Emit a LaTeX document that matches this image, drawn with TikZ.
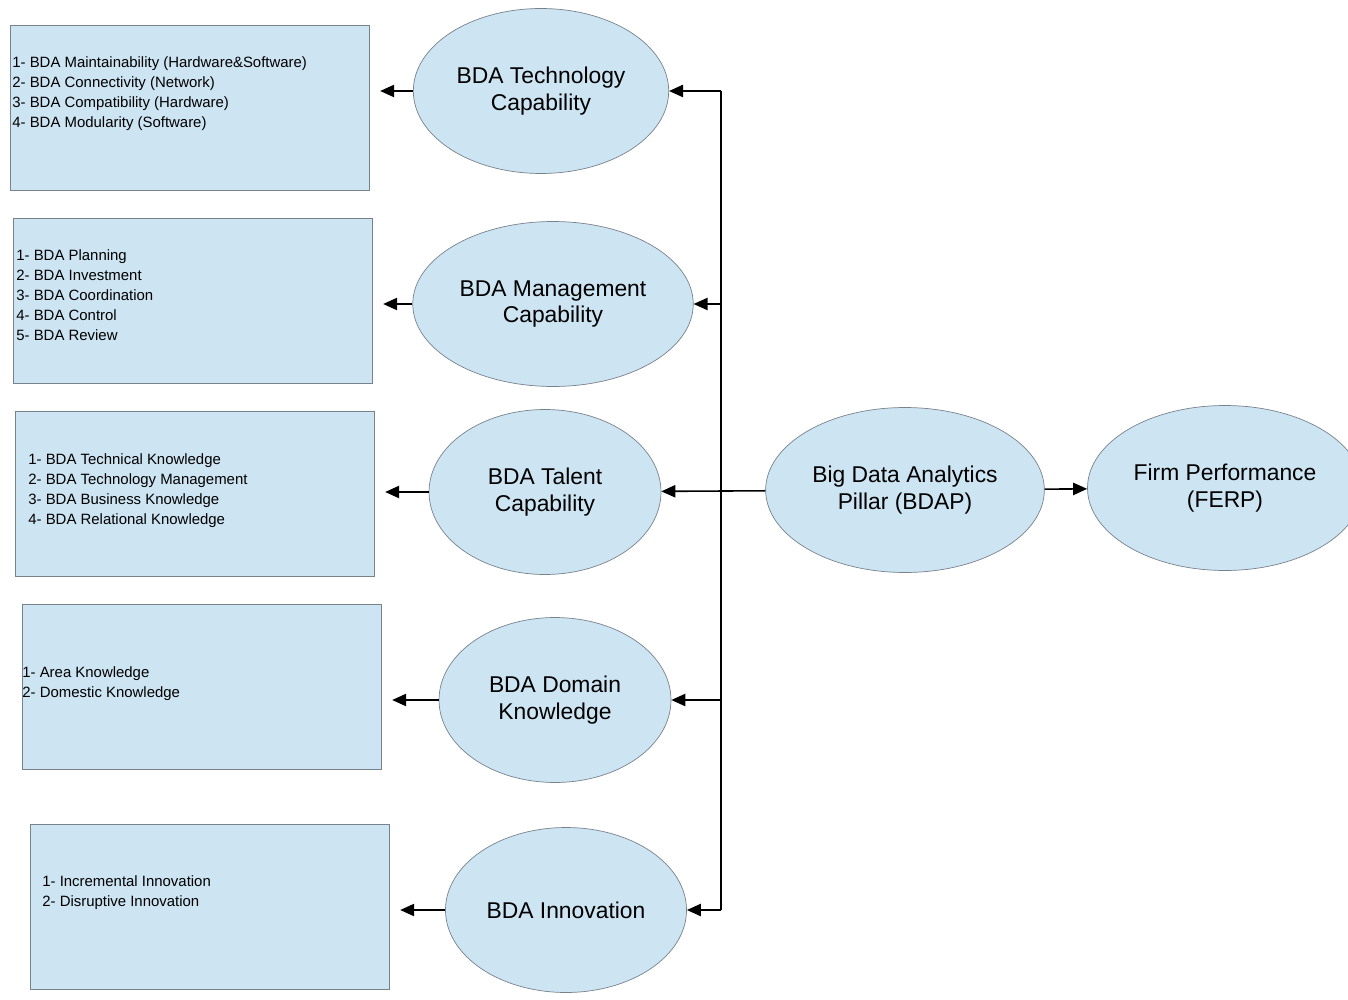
\documentclass[tikz,border=0pt]{standalone}
\usepackage{fontspec}
\setmainfont{Liberation Sans}
\usetikzlibrary{shapes.geometric,arrows.meta}
\definecolor{bubble}{RGB}{205,228,242}
\definecolor{rim}{RGB}{120,130,140}
\tikzset{
  pillar/.style={ellipse, draw=rim, fill=bubble, minimum width=4.64cm, minimum height=3.3cm, align=center, font=\fontsize{13}{15}\selectfont},
  itembox/.style={draw=rim, fill=bubble, minimum width=7.18cm, minimum height=3.3cm, anchor=north west},
  itemtext/.style={anchor=north west, align=left, inner sep=0pt, font=\fontsize{8.5}{11.5}\selectfont},
  link/.style={-{Triangle[length=8pt,width=7pt]}, line width=0.9pt}
}
\begin{document}
\begin{tikzpicture}[x=0.02cm,y=-0.02cm]
\useasboundingbox (0,0) rectangle (1348,1000);
% Item boxes
\node[itembox] (tbox) at (10,25) {};
\node[itembox] (mbox) at (13,218) {};
\node[itembox] (kbox) at (15,411) {};
\node[itembox] (dbox) at (22,604) {};
\node[itembox] (ibox) at (30,824) {};
\node[itemtext] (ttxt) at (12,56) {1- BDA Maintainability (Hardware\&Software)\\2- BDA Connectivity (Network)\\3- BDA Compatibility (Hardware)\\4- BDA Modularity (Software)};
\node[itemtext] (mtxt) at (16,249) {1- BDA Planning\\2- BDA Investment\\3- BDA Coordination\\4- BDA Control\\5- BDA Review};
\node[itemtext] (ktxt) at (28,453) {1- BDA Technical Knowledge\\2- BDA Technology Management\\3- BDA Business Knowledge\\4- BDA Relational Knowledge};
\node[itemtext] (dtxt) at (22,666) {1- Area Knowledge\\2- Domestic Knowledge};
\node[itemtext] (itxt) at (42,875) {1- Incremental Innovation\\2- Disruptive Innovation};
% Capabilities
\node[pillar] (tech) at (541,91) {BDA Technology\\Capability};
\node[pillar] (mgmt) at (553,304) {BDA Management\\Capability};
\node[pillar] (talent) at (545,492) {BDA Talent\\Capability};
\node[pillar] (domain) at (555,700) {BDA Domain\\Knowledge};
\node[pillar] (innov) at (566,910) {BDA Innovation};
\node[pillar] (bdap) at (905,490) {Big Data Analytics\\Pillar (BDAP)};
\node[pillar] (ferp) at (1225,488) {Firm Performance\\(FERP)};
% Trunk
\coordinate (top) at (721,91);
\coordinate (bottom) at (721,910);
\draw[line width=0.9pt] (top) -- (bottom);
\draw[link] (bdap) -- (talent);
\draw[link] (bdap) -- (ferp);
\foreach \cap in {tech,mgmt,domain,innov} {
  \draw[link] (top |- \cap.center) -- (\cap);
}
% Capabilities to their items
\foreach \cap/\items in {tech/tbox,mgmt/mbox,talent/kbox,domain/dbox,innov/ibox} {
  \draw[link] (\cap.west) -- ([xshift=6pt]\items.east |- \cap.west);
}
\end{tikzpicture}
\end{document}
